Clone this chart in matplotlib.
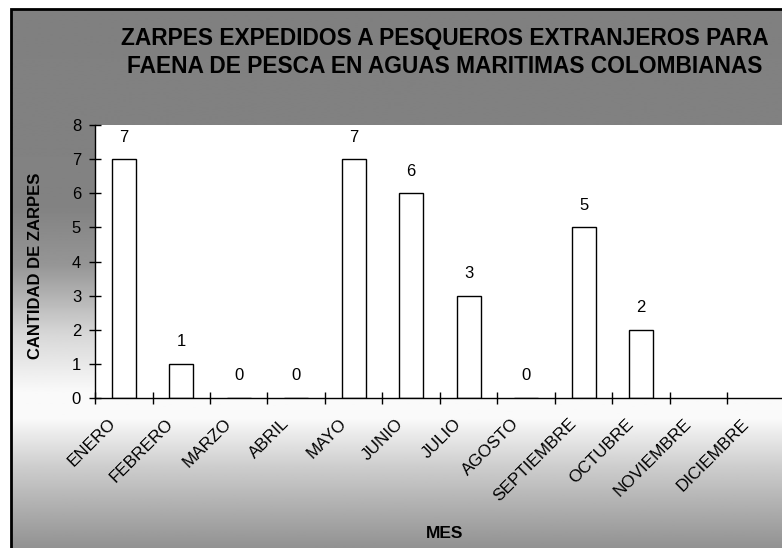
import numpy as np
import matplotlib
matplotlib.use("Agg")
import matplotlib.pyplot as plt
from matplotlib.patches import Rectangle

plt.rcParams['font.family'] = ['Liberation Sans', 'DejaVu Sans']

# datos: zarpes por mes
meses = ['ENERO', 'FEBRERO', 'MARZO', 'ABRIL', 'MAYO', 'JUNIO', 'JULIO',
         'AGOSTO', 'SEPTIEMBRE', 'OCTUBRE', 'NOVIEMBRE', 'DICIEMBRE']
zarpes = [7, 1, 0, 0, 7, 6, 3, 0, 5, 2, None, None]
y_ticks = [0, 1, 2, 3, 4, 5, 6, 7, 8]

W, H = 782, 548
fig = plt.figure(figsize=(W / 100, H / 100), dpi=100)
fig.patch.set_facecolor('white')

# fondo degradado (gris arriba, blanco cerca del eje, gris abajo)
bg = fig.add_axes([0, 0, 1, 1], zorder=0)
rows = np.arange(H)
stops_y = [0, 200, 260, 330, 390, 415, 465, 548]
stops_v = [128, 130, 150, 215, 250, 250, 205, 145]
col = np.interp(rows, stops_y, stops_v).reshape(-1, 1)
bg.imshow(col, cmap='gray', vmin=0, vmax=255, aspect='auto',
          extent=[11, W + 10, H, 9], interpolation='bilinear')
bg.set_xlim(0, W)
bg.set_ylim(H, 0)
bg.axis('off')
fig.patches.append(Rectangle((11 / W, -0.05), 1.1, 1 - 9 / H + 0.05,
                             transform=fig.transFigure, fill=False,
                             edgecolor='black', linewidth=2, zorder=5))

ax = fig.add_axes([95 / W, (H - 398) / H, 690 / W, 273 / H], zorder=1)
ax.set_facecolor('white')

x = np.arange(len(meses)) + 0.5
for xi, v in zip(x, zarpes):
    if v is None:
        continue
    ax.bar(xi, v, width=0.42, color='white', edgecolor='black', linewidth=1.0)
    ax.annotate(str(v), (xi, v), xytext=(0, 10.5), textcoords='offset points',
                ha='center', va='bottom', fontsize=12)

ax.set_xlim(0, len(meses))
ax.set_ylim(0, 8)
ax.set_yticks(y_ticks)
ax.set_xticks(np.arange(len(meses) + 1))
ax.set_xticklabels([])
ax.tick_params(axis='both', direction='inout', length=8, width=1.0)
ax.tick_params(axis='y', labelsize=12, pad=6)
for s in ['top', 'right']:
    ax.spines[s].set_visible(False)
for s in ['left', 'bottom']:
    ax.spines[s].set_linewidth(1.0)

for xi, m in zip(x, meses):
    ax.annotate(m, (xi, 0), xycoords=ax.get_xaxis_transform(),
                xytext=(-11, -13), textcoords='offset points',
                rotation=45, ha='right', va='top', rotation_mode='anchor',
                fontsize=12.3, annotation_clip=False)

ax.set_ylabel('CANTIDAD DE ZARPES', fontsize=12, fontweight='bold')
ax.yaxis.set_label_coords(-0.075, 0.484)

fig.text(445 / W, 1 - 52.5 / H,
         'ZARPES EXPEDIDOS A PESQUEROS EXTRANJEROS PARA\n'
         'FAENA DE PESCA EN AGUAS MARITIMAS COLOMBIANAS',
         ha='center', va='center', fontsize=16.4, fontweight='bold',
         linespacing=1.33, zorder=3)
fig.text(445 / W, 1 - 534 / H, 'MES', ha='center', va='center',
         fontsize=12.5, fontweight='bold', zorder=3)

fig.savefig('out.png', dpi=100)
